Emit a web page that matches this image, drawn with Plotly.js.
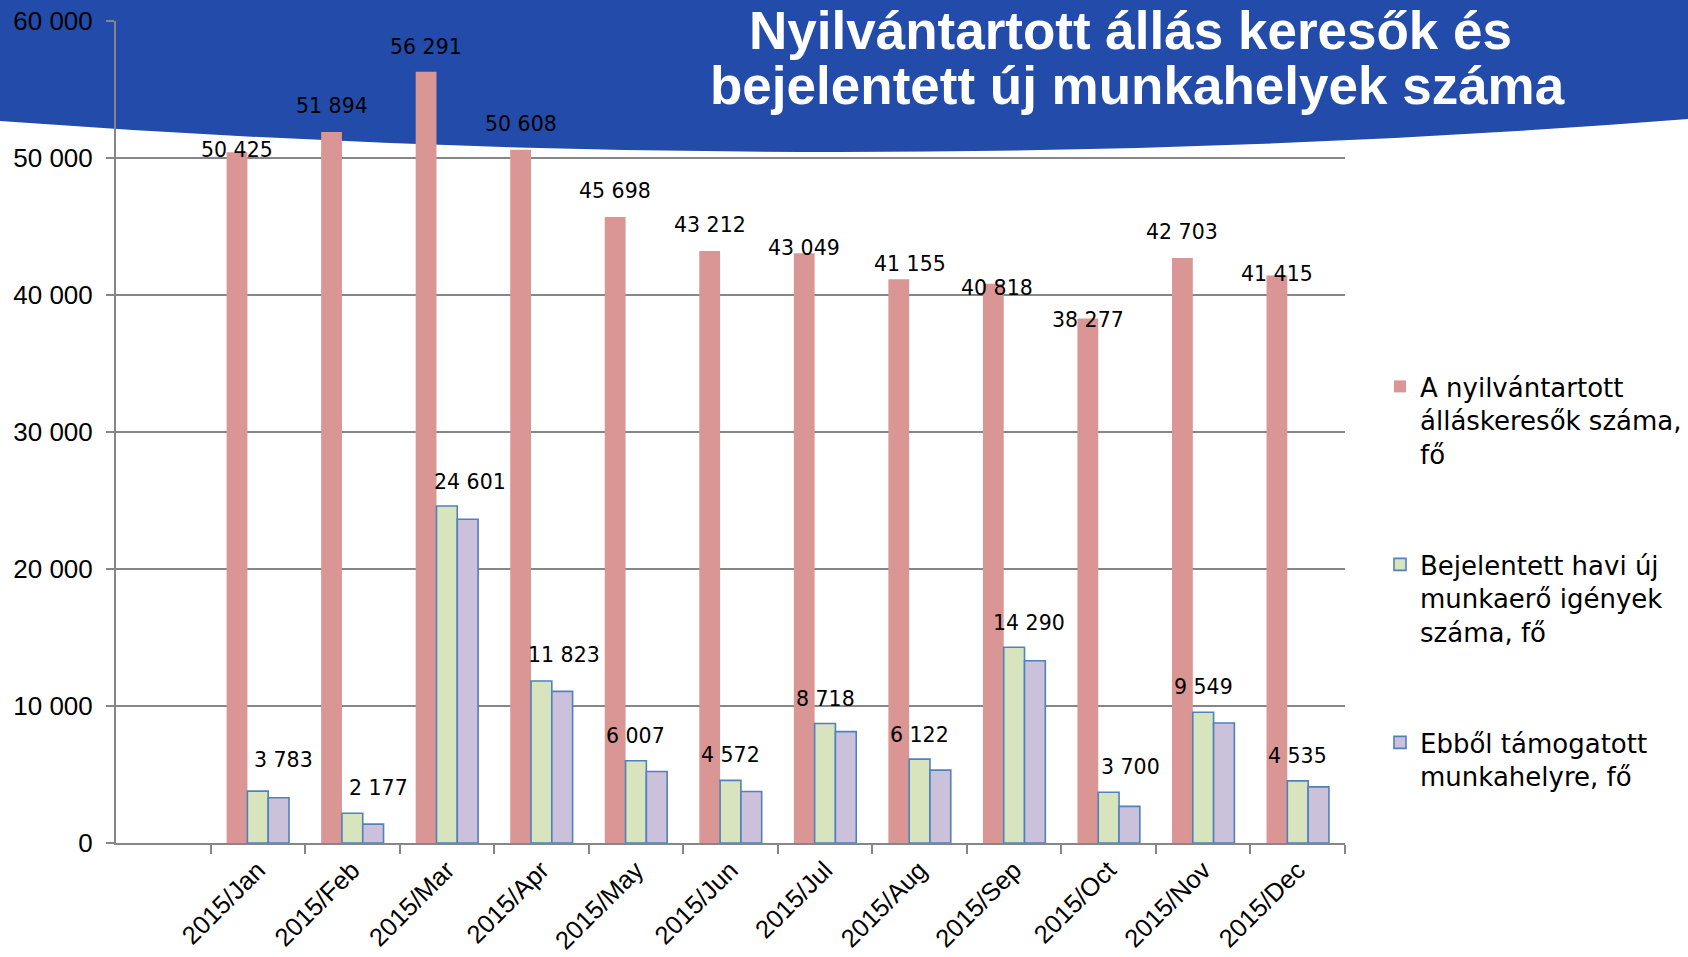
<!DOCTYPE html>
<html>
<head>
<meta charset="utf-8">
<script src="https://cdn.plot.ly/plotly-3.0.1.min.js"></script>
<style>
  html, body { margin: 0; padding: 0; background: #ffffff; }
  #chart { width: 1688px; height: 957px; }
</style>
</head>
<body>
<div id="chart"></div>
<script>
// ---------------- DATA ----------------
const categories = ['2015/Jan', '2015/Feb', '2015/Mar', '2015/Apr', '2015/May', '2015/Jun',
                    '2015/Jul', '2015/Aug', '2015/Sep', '2015/Oct', '2015/Nov', '2015/Dec'];
const jobSeekers = [50425, 51894, 56291, 50608, 45698, 43212, 43049, 41155, 40818, 38277, 42703, 41415];
const newDemands = [3783, 2177, 24601, 11823, 6007, 4572, 8718, 6122, 14290, 3700, 9549, 4535];
const supported  = [3300, 1380, 23630, 11070, 5220, 3760, 8130, 5320, 13300, 2670, 8760, 4100];
const seriesNames = [
  'A nyilvántartott<br>álláskeresők száma,<br>fő',
  'Bejelentett havi új<br>munkaerő igények<br>száma, fő',
  'Ebből támogatott<br>munkahelyre, fő'
];
const titleLines = ['Nyilvántartott állás keresők és', 'bejelentett új munkahelyek száma'];
const yTicks = [0, 10000, 20000, 30000, 40000, 50000, 60000];

// ---------------- STYLE / LABEL PLACEMENT (pixels) ----------------
const redLabelDx   = [0, 0, 0, 0, 0, 0, 0, 11, 4, 0, 0, 0];
const redLabelDy   = [2, 26, 25, 26, 26, 26, 5, 15, -4, -1, 26, 2];
const greenLabelDx = [26, 26, 23, 23, 0, 0, 0, 0, 15, 22, 0, 0];
const greenLabelDy = [31, 25, 24, 26, 25, 25, 25, 24, 24, 25, 25, 25];

const FONT = 'Arial, "Liberation Sans", sans-serif';
const WIDE = '"DejaVu Sans", Arial, sans-serif';
const M = { l: 116, r: 343, t: 21, b: 114, autoexpand: false };
const FIG_W = 1688, FIG_H = 957;
const PW = FIG_W - M.l - M.r, PH = FIG_H - M.t - M.b;
const px2x = p => (p - M.l) / PW;
const py2y = p => (FIG_H - M.b - p) / PH;

const BARGAP = 0.34;
const barW = (1 - BARGAP) / 3;

const fmt = v => String(v).replace(/\B(?=(\d{3})+(?!\d))/g, ' ');

const gridCol = '#868686';
const blue = '#234BA9';

// banner path (decorative background) in pixel space -> paper
const bannerPath =
  'M' + px2x(0) + ',' + py2y(0) +
  ' L' + px2x(FIG_W) + ',' + py2y(0) +
  ' L' + px2x(FIG_W) + ',' + py2y(119) +
  ' Q' + px2x(860) + ',' + py2y(184) + ' ' + px2x(0) + ',' + py2y(121) + ' Z';

const traces = [
  {
    type: 'bar', x: categories, y: jobSeekers, name: seriesNames[0],
    marker: { color: '#D99694', line: { width: 0 } },
    legend: 'legend'
  },
  {
    type: 'bar', x: categories, y: newDemands, name: seriesNames[1],
    marker: { color: '#D7E4BD', line: { color: '#4F81BD', width: 1.6 } },
    legend: 'legend2'
  },
  {
    type: 'bar', x: categories, y: supported, name: seriesNames[2],
    marker: { color: '#CCC1DA', line: { color: '#4F81BD', width: 1.6 } },
    legend: 'legend3'
  }
];

const annotations = [];
categories.forEach((c, i) => {
  annotations.push({
    xref: 'x', yref: 'y', x: i - barW, y: jobSeekers[i],
    text: fmt(jobSeekers[i]), showarrow: false,
    xanchor: 'center', yanchor: 'middle',
    xshift: redLabelDx[i], yshift: redLabelDy[i],
    font: { family: WIDE, size: 20.5, color: '#000000' }
  });
  annotations.push({
    xref: 'x', yref: 'y', x: i, y: newDemands[i],
    text: fmt(newDemands[i]), showarrow: false,
    xanchor: 'center', yanchor: 'middle',
    xshift: greenLabelDx[i], yshift: greenLabelDy[i],
    font: { family: WIDE, size: 20.5, color: '#000000' }
  });
});
// title lines
annotations.push({
  xref: 'paper', yref: 'paper', x: px2x(1130), y: py2y(31),
  text: '<b>' + titleLines[0] + '</b>', showarrow: false,
  xanchor: 'center', yanchor: 'middle',
  font: { family: FONT, size: 53, color: '#ffffff' }
});
annotations.push({
  xref: 'paper', yref: 'paper', x: px2x(1137), y: py2y(85),
  text: '<b>' + titleLines[1] + '</b>', showarrow: false,
  xanchor: 'center', yanchor: 'middle',
  font: { family: FONT, size: 53, color: '#ffffff' }
});

const legendBase = {
  xanchor: 'left', yanchor: 'top', valign: 'top',
  bgcolor: 'rgba(0,0,0,0)', borderwidth: 0,
  font: { family: WIDE, size: 26, color: '#000000' }
};

const layout = {
  width: FIG_W, height: FIG_H,
  margin: M,
  paper_bgcolor: '#ffffff',
  plot_bgcolor: 'rgba(0,0,0,0)',
  separators: '. ',
  barmode: 'group',
  bargap: BARGAP,
  bargroupgap: 0,
  font: { family: FONT, color: '#000000' },
  showlegend: true,
  legend:  Object.assign({}, legendBase, { x: px2x(1380), y: py2y(363) }),
  legend2: Object.assign({}, legendBase, { x: px2x(1380), y: py2y(541) }),
  legend3: Object.assign({}, legendBase, { x: px2x(1380), y: py2y(719) }),
  xaxis: {
    type: 'category',
    range: [-1.5, 11.5],
    tickangle: -45,
    tickfont: { family: FONT, size: 25.5, color: '#000000' },
    ticks: 'outside', tickson: 'boundaries', ticklen: 9, tickwidth: 2, tickcolor: gridCol,
    showline: true, linecolor: gridCol, linewidth: 2,
    showgrid: false, zeroline: false,
    automargin: false,
    fixedrange: true
  },
  yaxis: {
    range: [0, 60000],
    tickvals: yTicks,
    tickformat: ',d',
    tickfont: { family: FONT, size: 26, color: '#000000' },
    ticks: 'outside', ticklen: 8, tickwidth: 2, tickcolor: gridCol,
    ticklabelstandoff: 8,
    showline: true, linecolor: gridCol, linewidth: 2,
    showgrid: true, gridcolor: gridCol, gridwidth: 2,
    zeroline: false,
    automargin: false,
    fixedrange: true
  },
  shapes: [
    {
      type: 'path', xref: 'paper', yref: 'paper', layer: 'below',
      path: bannerPath,
      fillcolor: blue, line: { width: 0 }
    }
  ],
  annotations: annotations
};

Plotly.newPlot('chart', traces, layout, { displayModeBar: false, staticPlot: true });
</script>
</body>
</html>
